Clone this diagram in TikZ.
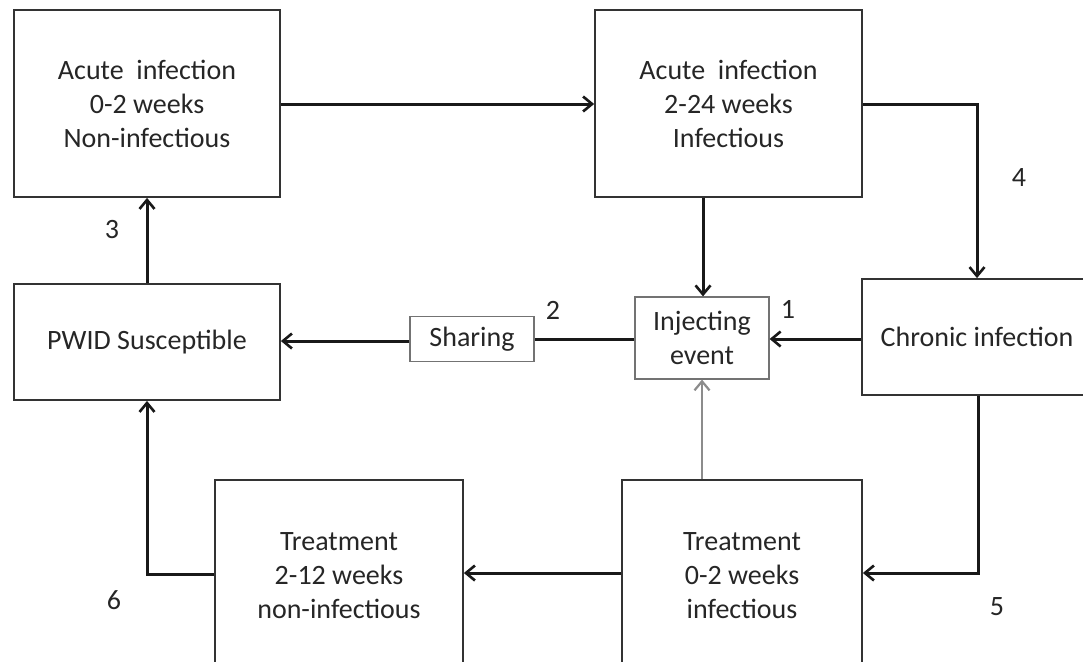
\documentclass[tikz,border=0pt]{standalone}
\usepackage{fontspec}
\setmainfont{Carlito}
\usetikzlibrary{arrows.meta}
\begin{document}
\begin{tikzpicture}[x=1pt,y=-1pt,
  box/.style={draw=black!80,line width=1.8pt,inner sep=0pt,align=center,
    font=\fontsize{28}{34}\selectfont,text=black!85},
  smallbox/.style={draw=black!55,line width=1.2pt,inner sep=0pt,align=center,
    font=\fontsize{28}{34}\selectfont,text=black!85},
  conn/.style={line width=3pt,black!90,-{Straight Barb[length=9pt,width=15pt,line width=2.6pt]}},
  plain/.style={line width=3pt,black!90},
  grayconn/.style={line width=2.4pt,black!45,-{Straight Barb[length=9pt,width=15pt,line width=2.2pt]}},
  lab/.style={font=\fontsize{28}{34}\selectfont,text=black!85,inner sep=0pt}]
\useasboundingbox (0,0) rectangle (1083,661);
\clip (0,0) rectangle (1083,661);
\node[box,minimum width=266pt,minimum height=187pt] (a1) at (147,103.5) {Acute\ \ infection\\0-2 weeks\\Non-infectious};
\node[box,minimum width=267pt,minimum height=187pt] (a2) at (728.5,103.5) {Acute\ \ infection\\2-24 weeks\\Infectious};
\node[box,minimum width=266pt,minimum height=116pt] (pw) at (147,342) {PWID Susceptible};
\node[smallbox,minimum width=124pt,minimum height=45pt] (sh) at (472,339) {Sharing};
\node[smallbox,minimum width=134pt,minimum height=82pt] (ie) at (702,338) {Injecting\\event};
\node[box,minimum width=230pt,minimum height=116pt] (ch) at (977,337) {Chronic infection};
\node[box,minimum width=248pt,minimum height=192pt] (t2) at (339,576) {Treatment\\2-12 weeks\\non-infectious};
\node[box,minimum width=240pt,minimum height=192pt] (t0) at (742,576) {Treatment\\0-2 weeks\\infectious};
\coordinate (c4) at (977,104);
\coordinate (c5) at (978,573);
\coordinate (c6) at (147,574);
\draw[conn] (a1.east |- 0,104) -- (a2.west |- 0,104);
\draw[conn] (a2.east |- 0,104) -- (c4) -- (ch.north);
\draw[conn] (a2.south -| 703,0) -- (ie.north -| 703,0);
\draw[conn] (ch.west |- 0,339) -- (ie.east |- 0,339);
\draw[plain] (ie.west |- 0,339) -- (sh.east |- 0,339);
\draw[conn] (sh.west |- 0,341) -- (pw.east |- 0,341);
\draw[conn] (pw.north -| 147,0) -- (a1.south -| 147,0);
\draw[conn] (ch.south -| c5) -- (c5) -- (t0.east |- c5);
\draw[conn] (t0.west |- 0,573) -- (t2.east |- 0,573);
\draw[conn] (t2.west |- c6) -- (c6) -- (pw.south -| c6);
\draw[grayconn] (t0.north -| 702,0) -- (ie.south -| 702,0);
\node[lab] (l1) at (788,309) {1};
\node[lab] (l2) at (553,310) {2};
\node[lab] (l3) at (112,230) {3};
\node[lab] (l4) at (1019,178) {4};
\node[lab] (l5) at (997,607) {5};
\node[lab] (l6) at (114,600) {6};
\end{tikzpicture}
\end{document}
